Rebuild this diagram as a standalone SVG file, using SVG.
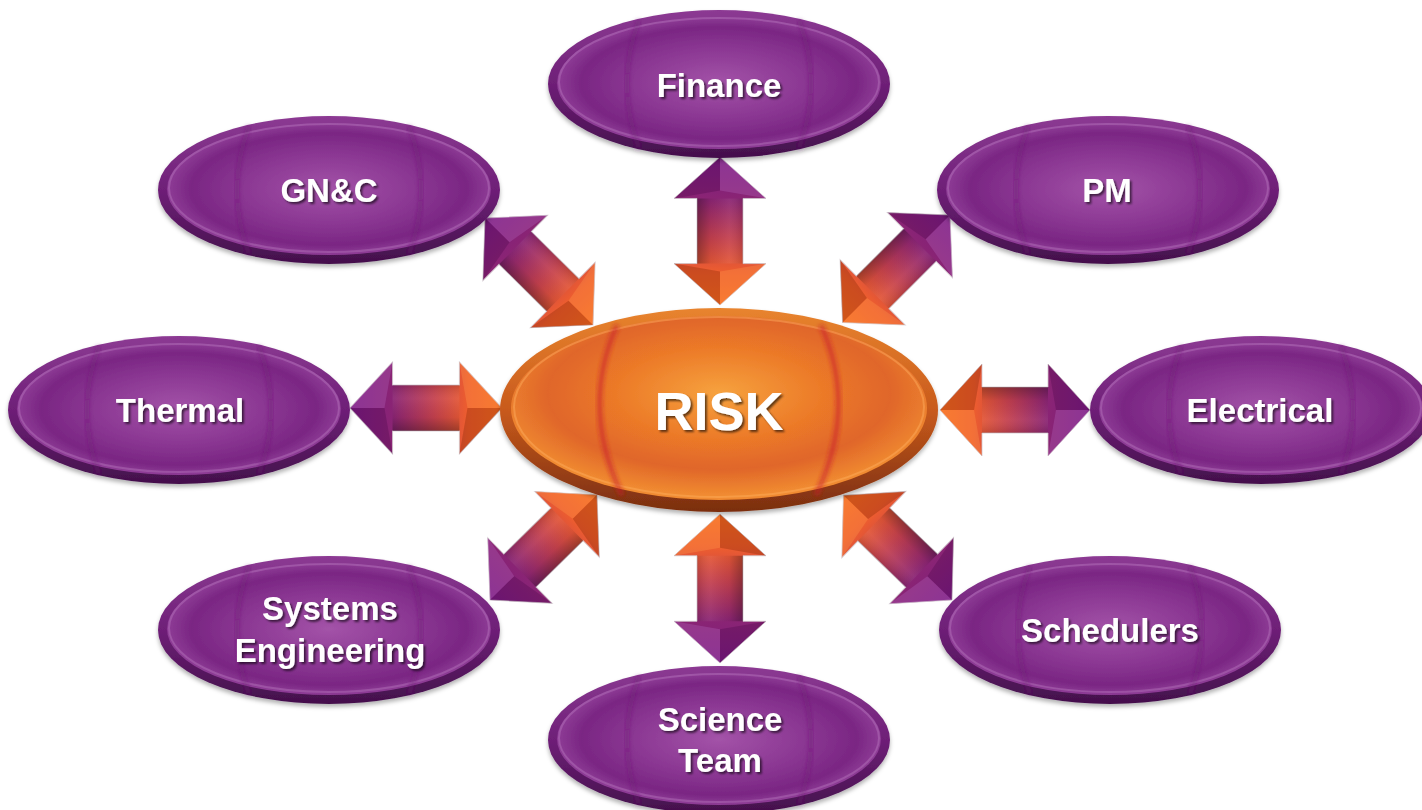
<svg xmlns="http://www.w3.org/2000/svg" width="1422" height="810" viewBox="0 0 1422 810">
<style>
.lbl{font-family:"Liberation Sans",Arial,sans-serif;font-weight:bold;fill:#ffffff;font-size:33px;text-anchor:middle;filter:url(#tsh)}
.big{font-size:54px}
.parc{fill:none;stroke:#6a1672;stroke-width:4;stroke-opacity:.45;filter:url(#blur2)}
.oarc{fill:none;stroke:#c81e2c;stroke-width:5;stroke-opacity:.6;filter:url(#blur2)}
</style>
<defs>
<filter id="tsh" x="-20%" y="-30%" width="140%" height="160%"><feDropShadow dx="2" dy="2" stdDeviation="1.2" flood-color="#000" flood-opacity="0.6"/></filter>
<filter id="blur2" x="-20%" y="-20%" width="140%" height="140%"><feGaussianBlur stdDeviation="2"/></filter>
<filter id="nsh" x="-10%" y="-10%" width="120%" height="130%"><feDropShadow dx="0" dy="3" stdDeviation="2" flood-color="#000" flood-opacity="0.3"/></filter>
<linearGradient id="pRim" x1="0" y1="0" x2="0" y2="1"><stop offset="0" stop-color="#8c3a93"/><stop offset="0.5" stop-color="#6e1f77"/><stop offset="1" stop-color="#43104b"/></linearGradient>
<radialGradient id="pFace" cx="0.5" cy="0.5" r="0.5"><stop offset="0" stop-color="#a353a8"/><stop offset="0.55" stop-color="#8a3692"/><stop offset="0.85" stop-color="#7a2683"/><stop offset="1" stop-color="#8e3c96"/></radialGradient>
<linearGradient id="oRim" x1="0" y1="0" x2="0" y2="1"><stop offset="0" stop-color="#e8842e"/><stop offset="0.5" stop-color="#c85a1c"/><stop offset="1" stop-color="#7a2e10"/></linearGradient>
<radialGradient id="oFace" cx="0.5" cy="0.42" r="0.55"><stop offset="0" stop-color="#f6a23e"/><stop offset="0.45" stop-color="#ec7a28"/><stop offset="0.75" stop-color="#e0662a"/><stop offset="1" stop-color="#f08a30"/></radialGradient>
<linearGradient id="aFill" x1="0" y1="0" x2="150" y2="0" gradientUnits="userSpaceOnUse"><stop offset="0" stop-color="#7a1c82"/><stop offset="0.28" stop-color="#8a2474"/><stop offset="0.55" stop-color="#c4404e"/><stop offset="0.78" stop-color="#ee5e2e"/><stop offset="1" stop-color="#f66e24"/></linearGradient>
<linearGradient id="aShade" x1="0" y1="-23" x2="0" y2="23" gradientUnits="userSpaceOnUse"><stop offset="0" stop-color="#000" stop-opacity="0.12"/><stop offset="0.3" stop-color="#fff" stop-opacity="0.06"/><stop offset="0.7" stop-color="#000" stop-opacity="0.05"/><stop offset="1" stop-color="#000" stop-opacity="0.3"/></linearGradient>
<g id="arrow">
<path d="M0,0 L42,-46 L42,-23 L108,-23 L108,-46 L150,0 L108,46 L108,23 L42,23 L42,46 Z" fill="url(#aFill)" stroke="#cfc6cc" stroke-width="1" stroke-opacity="0.8"/>
<path d="M42,-23 L108,-23 L108,23 L42,23 Z" fill="url(#aShade)"/>
<path d="M0,0 L42,-46 L34,0 Z" fill="#b060b6" fill-opacity="0.35"/>
<path d="M0,0 L42,46 L34,0 Z" fill="#3a0040" fill-opacity="0.25"/>
<path d="M150,0 L108,-46 L116,0 Z" fill="#ff9a50" fill-opacity="0.3"/>
<path d="M150,0 L108,46 L116,0 Z" fill="#7a2000" fill-opacity="0.3"/>
</g>
<g id="pnode">
<ellipse rx="171" ry="74" fill="url(#pRim)"/>
<ellipse rx="162" ry="66" cy="-1" fill="url(#pFace)"/>
<ellipse rx="160" ry="64" cy="-2" fill="none" stroke="#c488c8" stroke-width="2" stroke-opacity="0.35"/>
<path class="parc" d="M-80,-64 Q-104,0 -80,64"/>
<path class="parc" d="M80,-64 Q104,0 80,64"/>
</g>
</defs>
<rect width="1422" height="810" fill="#ffffff"/>
<g id="connectors">
<use href="#arrow" transform="translate(720,157) rotate(90) scale(0.987,1)"/>
<use href="#arrow" transform="translate(720,663) rotate(-90) scale(0.993,1)"/>
<use href="#arrow" transform="translate(350,408) scale(1.013,1)"/>
<use href="#arrow" transform="translate(1090,410) rotate(180)"/>
<use href="#arrow" transform="translate(485,218) rotate(44.7) scale(1.013,1)"/>
<use href="#arrow" transform="translate(950,215) rotate(135) scale(1.013,1)"/>
<use href="#arrow" transform="translate(490,600) rotate(-44.5)"/>
<use href="#arrow" transform="translate(952,600) rotate(-136) scale(1.006,1)"/>
</g>
<g id="risk" filter="url(#nsh)">
<ellipse cx="719" cy="410" rx="219" ry="102" fill="url(#oRim)"/>
<ellipse cx="719" cy="408" rx="208" ry="92" fill="url(#oFace)"/>
<ellipse cx="719" cy="407" rx="205" ry="90" fill="none" stroke="#ffb060" stroke-width="2" stroke-opacity="0.45"/>
<path class="oarc" d="M617,325 Q580,408 622,495"/>
<path class="oarc" d="M821,325 Q858,408 816,495"/>
<text class="lbl big" x="719" y="430">RISK</text>
</g>
<g id="finance" filter="url(#nsh)">
<use href="#pnode" transform="translate(719,84)"/>
<text class="lbl" x="719" y="97">Finance</text>
</g>
<g id="gnc" filter="url(#nsh)">
<use href="#pnode" transform="translate(329,190)"/>
<text class="lbl" x="329" y="202">GN&amp;C</text>
</g>
<g id="pm" filter="url(#nsh)">
<use href="#pnode" transform="translate(1108,190)"/>
<text class="lbl" x="1107" y="202">PM</text>
</g>
<g id="thermal" filter="url(#nsh)">
<use href="#pnode" transform="translate(179,410)"/>
<text class="lbl" x="180" y="422">Thermal</text>
</g>
<g id="electrical" filter="url(#nsh)">
<use href="#pnode" transform="translate(1261,410)"/>
<text class="lbl" x="1260" y="422">Electrical</text>
</g>
<g id="systems-engineering" filter="url(#nsh)">
<use href="#pnode" transform="translate(329,630)"/>
<text class="lbl" x="330" y="620">Systems</text>
<text class="lbl" x="330" y="662">Engineering</text>
</g>
<g id="schedulers" filter="url(#nsh)">
<use href="#pnode" transform="translate(1110,630)"/>
<text class="lbl" x="1110" y="642">Schedulers</text>
</g>
<g id="science-team" filter="url(#nsh)">
<use href="#pnode" transform="translate(719,740)"/>
<text class="lbl" x="720" y="731">Science</text>
<text class="lbl" x="720" y="772">Team</text>
</g>
</svg>
